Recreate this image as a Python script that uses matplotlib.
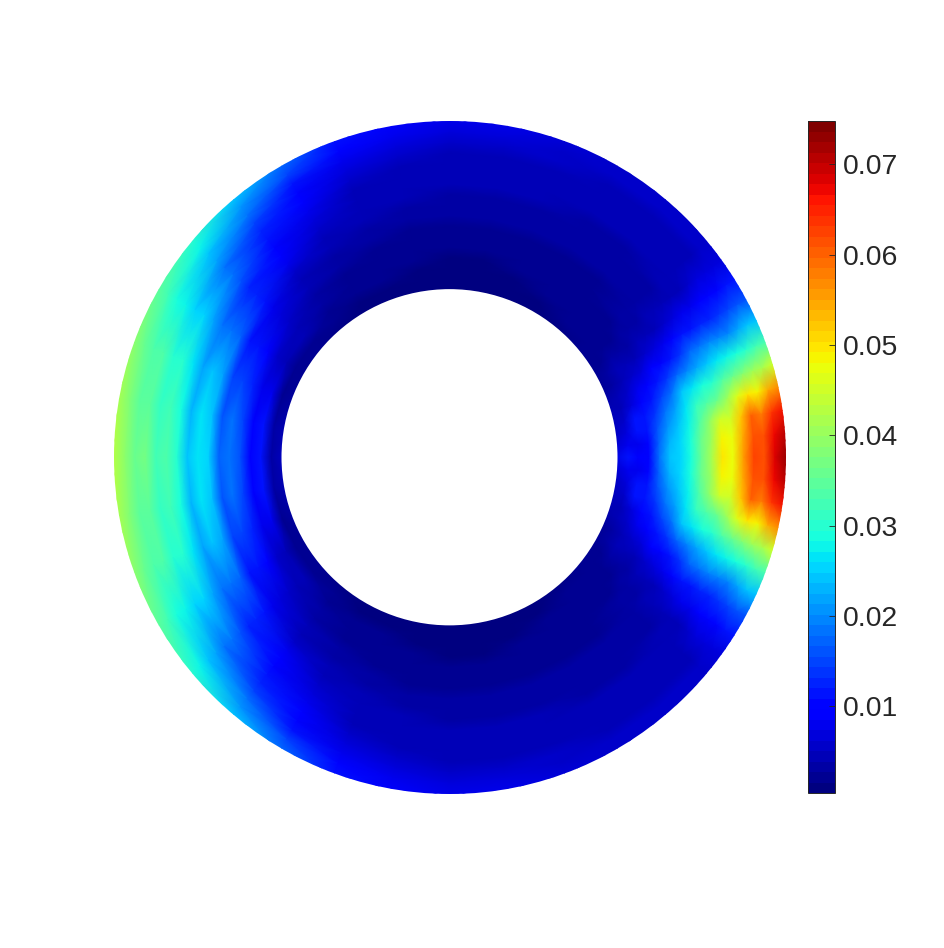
import numpy as np
import matplotlib
matplotlib.use('Agg')
import matplotlib.pyplot as plt
from matplotlib.patches import Circle

# angle (deg) from the +x axis, upper half only, lower half is a mirror of it
angles = [0, 4, 8, 12, 16, 20, 24, 28, 32, 36, 40, 50, 60, 70, 80, 90,
          100, 110, 120, 130, 140, 150, 160, 170, 180]
# radius, inner edge of the ring is 1 and the outer edge is 2
radii = [1.0, 1.0625, 1.125, 1.1875, 1.25, 1.3125, 1.375, 1.4375, 1.5,
         1.5625, 1.625, 1.6875, 1.75, 1.8125, 1.875, 1.9375, 2.0]

# one row per angle, one column per radius
amp = [
    [.007, .012, .009, .010, .018, .024, .025, .029, .036, .042, .050, .048, .056, .063, .062, .068, .074],
    [.006, .008, .008, .010, .017, .023, .025, .029, .036, .041, .049, .047, .055, .062, .061, .067, .072],
    [.005, .007, .012, .011, .016, .021, .024, .028, .034, .039, .045, .045, .052, .060, .058, .064, .067],
    [.004, .006, .012, .011, .014, .018, .022, .027, .031, .034, .036, .040, .046, .050, .049, .054, .058],
    [.004, .005, .007, .010, .012, .015, .018, .024, .027, .029, .030, .034, .036, .038, .040, .042, .046],
    [.003, .004, .006, .008, .009, .011, .014, .017, .020, .022, .024, .027, .028, .029, .030, .032, .034],
    [.002, .003, .005, .006, .007, .009, .010, .012, .014, .017, .018, .020, .020, .020, .022, .024, .024],
    [.002, .003, .004, .005, .005, .006, .007, .008, .010, .012, .012, .013, .013, .014, .015, .016, .016],
    [.002, .002, .003, .003, .003, .004, .004, .005, .006, .007, .008, .008, .009, .010, .010, .012, .012],
    [.002, .002, .002, .002, .003, .003, .003, .004, .004, .004, .005, .005, .006, .007, .007, .007, .007],
    [.002, .002, .002, .002, .002, .003, .003, .003, .003, .003, .004, .004, .004, .005, .005, .006, .006],
    [.001, .002, .002, .002, .002, .002, .002, .003, .003, .003, .003, .004, .004, .005, .005, .006, .006],
    [.001, .001, .002, .002, .002, .002, .002, .003, .003, .003, .003, .004, .004, .005, .005, .006, .006],
    [.001, .001, .001, .002, .002, .002, .002, .003, .003, .003, .004, .004, .004, .005, .006, .006, .007],
    [.001, .001, .001, .001, .002, .002, .002, .003, .003, .003, .004, .004, .005, .005, .006, .007, .008],
    [.001, .001, .001, .001, .002, .002, .002, .003, .003, .003, .004, .004, .005, .005, .006, .007, .008],
    [.001, .001, .001, .002, .002, .002, .002, .003, .003, .004, .004, .005, .005, .006, .007, .008, .009],
    [.001, .001, .002, .002, .002, .002, .003, .003, .004, .004, .005, .005, .006, .007, .008, .010, .012],
    [.001, .001, .002, .002, .002, .003, .003, .004, .005, .006, .007, .008, .009, .010, .012, .015, .018],
    [.001, .002, .002, .003, .003, .004, .005, .006, .008, .009, .010, .012, .013, .015, .018, .021, .025],
    [.002, .002, .004, .004, .006, .007, .008, .011, .013, .013, .016, .018, .019, .022, .024, .028, .031],
    [.002, .002, .005, .006, .009, .011, .012, .017, .019, .018, .022, .025, .025, .028, .029, .032, .036],
    [.003, .002, .008, .008, .013, .015, .015, .022, .024, .022, .027, .030, .030, .033, .033, .036, .040],
    [.005, .003, .011, .009, .015, .018, .016, .024, .026, .023, .029, .032, .031, .035, .035, .038, .043],
    [.006, .003, .012, .009, .016, .019, .017, .025, .027, .024, .030, .033, .032, .037, .036, .039, .044],
]

cbar_ticks = [0.01, 0.02, 0.03, 0.04, 0.05, 0.06, 0.07]
cbar_min, cbar_max = 0.0004, 0.0748

W, H = 944, 948
DARK = '#262626'

plt.rcParams['font.family'] = ['Liberation Sans', 'DejaVu Sans']

fig = plt.figure(figsize=(W / 100, H / 100), dpi=100)
ax = fig.add_axes([113.5 / W, 1 - 793.5 / H, 672 / W, 672.5 / H])

half = np.array(amp)
values = np.vstack([half, half[-2::-1]])
th = np.radians(angles + [360 - a for a in angles[-2::-1]])

# push the mesh past both edges, the circles below cut the real ring
rr = np.array(radii)
rr[0] = 0.97
rr[-1] = 2.03
R, T = np.meshgrid(rr, th)
X = R * np.cos(T)
Y = R * np.sin(T)

jet64 = plt.get_cmap('jet', 64)
mesh = ax.pcolormesh(X, Y, values, cmap=jet64, vmin=cbar_min, vmax=cbar_max,
                     shading='gouraud', rasterized=True)
clip = Circle((0, 0), radii[-1], transform=ax.transData)
mesh.set_clip_path(clip)
ax.add_patch(Circle((0, 0), radii[0], fc='white', ec='none', zorder=3))
ax.set_xlim(-2, 2)
ax.set_ylim(-2, 2)
ax.axis('off')

cax = fig.add_axes([808 / W, 1 - 793 / H, 26.5 / W, 672 / H])
cbar = fig.colorbar(mesh, cax=cax, ticks=cbar_ticks, drawedges=False)
cbar.ax.tick_params(direction='in', length=4.5, width=0.6, color=DARK,
                    labelcolor=DARK, labelsize=20.4, pad=6)
cbar.ax.set_yticklabels(['%.2f' % t for t in cbar_ticks])
cbar.outline.set_edgecolor(DARK)
cbar.outline.set_linewidth(0.7)
cbar.minorticks_off()

fig.savefig('out.png', dpi=100)
